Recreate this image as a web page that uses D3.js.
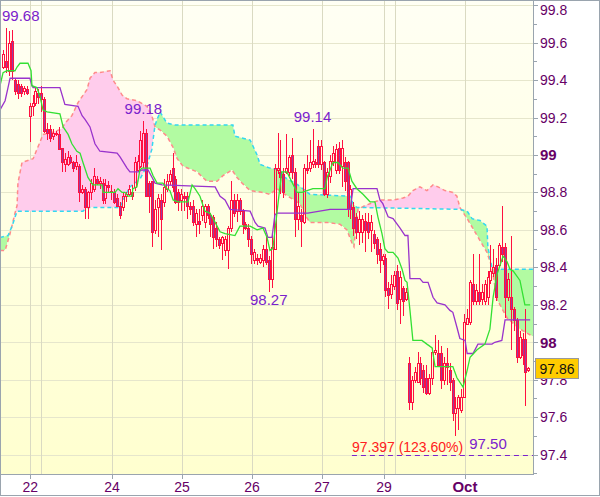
<!DOCTYPE html>
<html><head><meta charset="utf-8">
<script src="https://cdn.jsdelivr.net/npm/d3@7"></script>
<style>html,body{margin:0;padding:0;background:#fff;}svg{display:block;font-family:"Liberation Sans",Arial,sans-serif;}</style>
</head><body><svg id="c" width="600" height="497"></svg>
<script>
// ---------- DATA ----------
const opens = [99.47,99.50,99.45,99.61,99.40,99.38,99.37,99.34,99.35,99.21,
99.26,99.28,99.33,99.33,99.30,99.14,99.14,99.10,99.12,99.11,
99.04,98.95,98.95,98.99,98.96,98.94,98.94,98.80,98.82,98.72,
98.80,98.82,98.87,98.85,98.85,98.77,98.84,98.81,98.80,98.77,
98.73,98.72,98.78,98.79,98.80,98.83,98.92,98.94,98.96,99.12,
98.85,98.86,98.60,98.72,98.76,98.75,98.82,98.86,98.93,98.87,
98.80,98.76,98.78,98.78,98.73,98.73,98.63,98.65,98.68,98.64,
98.73,98.68,98.67,98.61,98.55,98.53,98.49,98.49,98.61,98.76,
98.70,98.76,98.70,98.63,98.61,98.55,98.44,98.45,98.43,98.44,
98.50,98.44,98.34,98.50,98.92,98.91,98.90,98.91,98.91,99.00,
98.91,98.66,98.68,98.64,98.93,98.93,98.95,98.96,99.05,98.95,
98.96,98.79,98.89,98.97,98.92,99.04,98.94,98.96,98.96,98.71,
98.72,98.67,98.59,98.59,98.65,98.64,98.60,98.58,98.55,98.50,
98.44,98.45,98.29,98.26,98.30,98.38,98.23,98.29,98.23,97.89,
97.68,97.80,97.79,97.89,97.85,97.81,97.73,97.81,97.95,97.94,
97.94,97.80,97.89,97.85,97.80,97.62,97.65,97.64,97.71,98.10,
98.11,98.31,98.22,98.27,98.23,98.22,98.24,98.33,98.37,98.41,
98.41,98.51,98.51,98.24,98.24,98.18,98.12,97.92,98.02,98.02,
97.85];
const highs = [99.56,99.68,99.66,99.67,99.41,99.40,99.38,99.37,99.37,99.28,
99.32,99.36,99.35,99.37,99.31,99.17,99.16,99.14,99.13,99.15,
99.04,99.01,99.02,99.00,98.97,99.00,98.95,98.84,98.83,98.81,
98.87,98.93,98.89,98.88,98.87,98.87,98.86,98.84,98.82,98.79,
98.75,98.80,98.80,98.84,98.84,98.99,99.00,99.13,99.18,99.14,
98.86,98.86,98.76,98.79,98.79,98.87,98.90,98.92,99.01,98.89,
98.82,98.82,98.80,98.80,98.75,98.76,98.71,98.71,98.76,98.74,
98.74,98.69,98.68,98.64,98.56,98.57,98.57,98.62,98.86,98.79,
98.79,98.77,98.71,98.64,98.63,98.57,98.50,98.47,98.47,98.52,
98.56,98.46,98.58,98.95,99.12,99.08,98.93,99.11,99.00,99.09,
98.93,98.80,98.71,98.95,99.00,99.08,99.14,98.98,99.08,99.08,
98.97,98.93,99.00,99.05,99.06,99.07,99.08,98.99,98.97,98.84,
98.75,98.69,98.70,98.68,98.69,98.69,98.68,98.60,98.56,98.53,
98.47,98.47,98.32,98.36,98.38,98.41,98.38,98.30,98.29,97.92,
97.82,97.87,97.95,97.92,97.88,97.88,97.83,97.97,98.04,98.01,
97.98,97.92,97.97,97.89,97.81,97.71,97.72,97.75,98.15,98.18,
98.33,98.47,98.31,98.47,98.31,98.33,98.38,98.52,98.50,98.45,
98.53,98.73,98.53,98.37,98.57,98.19,98.13,98.06,98.05,98.18,
97.87];
const lows = [99.46,99.44,99.42,99.40,99.32,99.30,99.31,99.32,99.32,99.07,
99.21,99.26,99.27,99.23,99.12,99.08,99.07,99.08,99.10,99.03,
98.91,98.91,98.94,98.95,98.91,98.92,98.75,98.79,98.66,98.66,
98.76,98.80,98.84,98.82,98.74,98.74,98.80,98.76,98.74,98.72,
98.66,98.70,98.75,98.78,98.76,98.81,98.91,98.93,98.93,98.78,
98.69,98.51,98.58,98.56,98.49,98.72,98.80,98.84,98.80,98.74,
98.70,98.70,98.70,98.66,98.68,98.62,98.56,98.58,98.65,98.61,
98.66,98.56,98.50,98.51,98.50,98.44,98.46,98.39,98.59,98.67,
98.64,98.68,98.58,98.60,98.51,98.42,98.42,98.41,98.42,98.40,
98.41,98.27,98.29,98.49,98.90,98.79,98.77,98.90,98.89,98.87,
98.56,98.60,98.51,98.63,98.90,98.91,98.93,98.93,98.93,98.92,
98.78,98.77,98.85,98.94,98.90,98.90,98.83,98.81,98.67,98.66,
98.57,98.55,98.52,98.53,98.48,98.55,98.48,98.50,98.42,98.37,
98.41,98.24,98.18,98.23,98.28,98.17,98.10,98.14,98.22,97.64,
97.64,97.78,97.78,97.77,97.73,97.72,97.72,97.77,97.93,97.87,
97.75,97.77,97.77,97.74,97.58,97.50,97.53,97.62,97.70,98.09,
98.09,98.20,98.20,98.20,98.20,98.20,98.20,98.31,98.35,98.22,
98.40,98.43,98.13,98.22,97.96,98.06,97.89,97.91,97.88,97.66,
97.84];
const closes = [99.54,99.47,99.60,99.45,99.34,99.33,99.33,99.36,99.33,99.26,
99.28,99.34,99.31,99.30,99.13,99.12,99.09,99.12,99.11,99.03,
98.96,98.98,98.99,98.96,98.93,98.96,98.80,98.82,98.72,98.80,
98.85,98.89,98.85,98.86,98.76,98.84,98.83,98.80,98.75,98.73,
98.68,98.78,98.79,98.82,98.78,98.96,98.97,99.08,99.12,98.78,
98.78,98.59,98.71,98.77,98.66,98.83,98.86,98.90,98.83,98.75,
98.75,98.79,98.77,98.73,98.71,98.64,98.69,98.63,98.73,98.73,
98.68,98.63,98.56,98.55,98.52,98.56,98.55,98.61,98.76,98.69,
98.76,98.70,98.63,98.61,98.55,98.47,98.48,98.44,98.45,98.50,
98.43,98.34,98.51,98.93,98.93,98.88,98.80,98.93,98.99,98.91,
98.66,98.73,98.65,98.93,98.92,98.96,98.97,98.95,98.95,99.05,
98.79,98.91,98.97,99.01,99.03,98.92,99.04,98.86,98.71,98.82,
98.61,98.59,98.66,98.66,98.60,98.59,98.64,98.53,98.47,98.44,
98.46,98.28,98.25,98.31,98.36,98.21,98.35,98.22,98.27,97.68,
97.80,97.84,97.89,97.81,97.76,97.73,97.81,97.95,97.96,97.88,
97.80,97.89,97.87,97.79,97.62,97.65,97.71,97.71,98.11,98.13,
98.32,98.22,98.28,98.22,98.27,98.31,98.35,98.38,98.40,98.24,
98.52,98.47,98.24,98.34,98.18,98.12,97.92,98.03,97.93,97.84,
97.86];

// indicator lines: [hour slot, price]
const tenkan = [[-1.15,99.37],[-0.1,99.44],[1.25,99.45],[4.0,99.45],[4.7,99.47],[5.7,99.49],[8.45,99.49],[9.5,99.45],[9.8,99.37],[11.5,99.36],[12.6,99.31],[13.6,99.24],[15.0,99.23],[19.4,99.22],[20.5,99.15],[22.2,99.11],[23.5,99.06],[25.2,99.02],[26.3,99.01],[27.3,98.96],[29.0,98.88],[30.7,98.84],[33.8,98.84],[34.2,98.80],[38.3,98.80],[39.3,98.82],[40.7,98.80],[41.7,98.80],[42.7,98.78],[44.1,98.78],[44.4,98.82],[45.8,98.83],[46.8,98.92],[47.5,98.93],[50.3,98.93],[51.3,98.89],[52.7,98.85],[54.7,98.85],[56.1,98.82],[57.1,98.81],[58.2,98.76],[59.9,98.75],[63.3,98.75],[64.7,98.84],[65.7,98.82],[67.4,98.78],[69.1,98.70],[70.8,98.69],[72.6,98.64],[74.3,98.59],[76.0,98.58],[79.4,98.57],[81.1,98.62],[84.6,98.62],[87.0,98.60],[89.0,98.61],[90.4,98.56],[91.4,98.49],[92.4,98.50],[93.8,98.69],[94.8,98.83],[95.5,98.91],[97.2,98.91],[100.7,98.80],[102.4,98.80],[106.1,98.82],[110.3,98.82],[111.0,98.88],[113.0,98.96],[114.7,98.96],[116.4,98.93],[118.2,98.93],[119.5,98.86],[121.2,98.82],[123.3,98.79],[125.7,98.75],[127.4,98.75],[128.4,98.67],[129.8,98.58],[130.8,98.50],[131.9,98.48],[133.6,98.48],[135.3,98.45],[136.7,98.39],[137.7,98.33],[138.4,98.32],[139.4,98.17],[140.4,98.01],[143.5,98.01],[145.2,97.99],[147.0,97.97],[148.0,97.87],[149.7,97.87],[154.1,97.87],[155.5,97.81],[157.6,97.76],[159.0,97.85],[160.0,97.92],[162.4,97.96],[165.1,97.99],[166.8,98.07],[167.9,98.24],[169.2,98.36],[171.3,98.46],[172.7,98.43],[173.7,98.39],[174.8,98.38],[177.1,98.33],[178.8,98.20],[180.6,98.20]];
const kijun = [[-1.15,99.24],[0.6,99.29],[1.6,99.36],[2.3,99.41],[9.1,99.41],[9.8,99.37],[10.2,99.36],[19.4,99.36],[21.1,99.27],[25.6,99.26],[27.0,99.21],[28.0,99.19],[29.7,99.15],[31.4,99.06],[33.1,99.02],[39.0,99.01],[40.0,98.99],[42.4,98.93],[43.4,98.91],[46.2,98.91],[47.5,98.92],[49.6,98.92],[51.0,98.88],[52.0,98.85],[54.4,98.84],[72.6,98.83],[74.3,98.78],[76.0,98.76],[77.7,98.71],[84.6,98.70],[86.3,98.64],[87.3,98.62],[89.7,98.61],[90.7,98.56],[92.1,98.56],[93.1,98.68],[93.8,98.69],[104.4,98.69],[112.0,98.71],[118.9,98.71],[119.9,98.82],[128.1,98.82],[129.1,98.76],[130.1,98.74],[131.9,98.67],[133.6,98.66],[136.0,98.61],[137.7,98.57],[138.7,98.57],[139.4,98.34],[142.8,98.34],[143.9,98.32],[145.6,98.32],[147.3,98.24],[148.7,98.21],[151.4,98.20],[153.1,98.17],[154.1,98.16],[155.5,98.08],[156.5,98.02],[158.3,98.01],[159.0,97.94],[161.0,97.94],[162.7,97.99],[167.5,97.99],[168.5,98.00],[170.9,98.01],[172.0,98.12],[180.6,98.12]];
const spanA = [[-1.15,98.56],[1.6,98.57],[3.0,98.62],[4.7,98.70],[27.3,98.70],[28.7,98.72],[40.0,98.72],[41.7,98.78],[43.4,98.83],[46.8,98.87],[49.2,98.94],[50.9,99.03],[52.0,99.16],[53.7,99.23],[56.1,99.17],[58.9,99.16],[78.7,99.16],[79.4,99.10],[84.6,99.08],[87.0,99.00],[88.0,98.95],[91.4,98.93],[94.8,98.92],[96.5,98.88],[101.0,98.84],[105.1,98.79],[118.9,98.78],[119.9,98.74],[121.2,98.72],[156.5,98.71],[159.0,98.70],[160.7,98.66],[163.4,98.65],[165.8,98.62],[166.1,98.51],[167.5,98.40],[168.5,98.39],[181.6,98.39]];
const spanB = [[-1.15,98.49],[0.6,98.49],[2.3,98.58],[4.0,98.69],[4.7,98.73],[5.0,98.85],[6.4,98.96],[10.2,98.98],[11.5,99.03],[12.6,99.07],[13.6,99.11],[16.7,99.12],[20.1,99.14],[21.1,99.17],[23.5,99.21],[25.6,99.28],[28.7,99.35],[29.7,99.41],[31.4,99.44],[33.1,99.44],[36.6,99.45],[37.6,99.40],[39.3,99.36],[40.7,99.32],[42.4,99.30],[45.8,99.29],[49.2,99.26],[50.9,99.21],[52.0,99.15],[54.0,99.13],[56.1,99.10],[58.2,99.04],[59.6,98.98],[61.6,98.94],[66.4,98.91],[68.4,98.88],[69.8,98.86],[73.3,98.86],[75.3,98.89],[78.4,98.92],[80.1,98.88],[81.8,98.85],[84.6,98.81],[89.0,98.80],[91.4,98.79],[93.8,98.82],[96.5,98.79],[101.7,98.74],[103.4,98.68],[105.1,98.64],[111.0,98.64],[115.4,98.63],[117.8,98.60],[119.5,98.53],[120.2,98.51],[120.9,98.63],[121.6,98.71],[124.0,98.73],[129.1,98.76],[133.6,98.76],[137.0,98.77],[138.7,98.78],[140.4,98.81],[142.8,98.83],[145.2,98.81],[147.3,98.84],[149.0,98.83],[151.4,98.81],[154.1,98.80],[155.5,98.78],[156.5,98.72],[159.0,98.66],[162.4,98.57],[165.8,98.48],[167.5,98.40],[169.2,98.23],[172.7,98.13],[177.1,98.07],[181.6,98.03]];

const yTickValues = [97.4,97.6,97.8,98,98.2,98.4,98.6,98.8,99,99.2,99.4,99.6,99.8];
const yTickLabels = ["97.4","97.6","97.8","98","98.2","98.4","98.6","98.8","99","99.2","99.4","99.6","99.8"];
const yBoldLabels = ["98","99"];
const yMinorValues = [97.3,97.5,97.7,97.9,98.1,98.3,98.5,98.7,98.9,99.1,99.3,99.5,99.7];
const daySlots = [9.25,13,37.25,61.25,85.25,109.25,130.5,134.25,158.25];
const dayLabels = ["22","","24","25","26","27","29","","Oct"];
const dayBold = ["Oct"];
const extremes = [
  {slot:1, value:99.68, text:"99.68", kind:"high"},
  {slot:48, value:99.18, text:"99.18", kind:"high"},
  {slot:106, value:99.14, text:"99.14", kind:"high"},
  {slot:91, value:98.27, text:"98.27", kind:"low"},
  {slot:155, value:97.50, text:"97.50", kind:"low"}
];
const fibValue = 97.397;
const fibLabel = "97.397 (123.60%)";
const fibStartSlot = 119.5;
const lastPrice = 97.86;

// ---------- DRAW ----------
const W = 600, H = 497;
const plot = {l:1, t:1, r:533, b:474};
const x = d3.scaleLinear().domain([0,180]).range([3.35,528.4]);
const y = d3.scaleLinear().domain([97.4,99.8]).range([454.6,5.2]);
const svg = d3.select("#c");
const defs = svg.append("defs");
const grad = defs.append("linearGradient").attr("id","bg").attr("x1",0).attr("y1",0).attr("x2",0).attr("y2",1);
grad.append("stop").attr("offset","0%").attr("stop-color","#fffff4");
grad.append("stop").attr("offset","100%").attr("stop-color","#ffffcf");
defs.append("clipPath").attr("id","plotClip").append("rect")
  .attr("x",plot.l).attr("y",plot.t).attr("width",plot.r-plot.l).attr("height",plot.b-plot.t);

svg.append("rect").attr("width",W).attr("height",H).attr("fill","#fff");
svg.append("rect").attr("x",plot.l).attr("y",plot.t).attr("width",plot.r-plot.l).attr("height",plot.b-plot.t).attr("fill","url(#bg)");

const g = svg.append("g").attr("clip-path","url(#plotClip)");

// grid
g.append("g").selectAll("line").data(yTickValues).join("line")
  .attr("x1",plot.l).attr("x2",plot.r)
  .attr("y1",d=>Math.round(y(d))+0.5).attr("y2",d=>Math.round(y(d))+0.5)
  .attr("stroke","#e6e6cc").attr("stroke-width",1);
g.append("g").selectAll("line").data(daySlots).join("line")
  .attr("x1",d=>Math.round(x(d))+0.5).attr("x2",d=>Math.round(x(d))+0.5)
  .attr("y1",plot.t).attr("y2",plot.b)
  .attr("stroke","#dadac2").attr("stroke-width",1);

// cloud
const line = d3.line().x(d=>x(d[0])).y(d=>y(d[1]));
const between = line(spanA) + "L" + line(spanB.slice().reverse()).slice(1) + "Z";
function above(pts){
  const f = pts[0], l = pts[pts.length-1];
  return line(pts) + `L${x(l[0])},-50L${x(f[0])},-50Z`;
}
defs.append("clipPath").attr("id","aboveB").append("path").attr("d",above(spanB));
defs.append("clipPath").attr("id","aboveA").append("path").attr("d",above(spanA));
const cloud = g.append("g");
cloud.append("g").attr("clip-path","url(#aboveB)").append("path").attr("d",between).attr("fill","#b2fba2");
cloud.append("g").attr("clip-path","url(#aboveA)").append("path").attr("d",between).attr("fill","#ffccec");
cloud.append("path").attr("d",line(spanB)).attr("fill","none").attr("stroke","#ff8a8a").attr("stroke-width",1.5).attr("stroke-dasharray","4,3");
cloud.append("path").attr("d",line(spanA)).attr("fill","none").attr("stroke","#33d8f0").attr("stroke-width",1.5).attr("stroke-dasharray","4,3");

// candles
const red = "#ff1040";
const cg = g.append("g").attr("shape-rendering","crispEdges");
opens.forEach((o,i)=>{
  const c = closes[i], hi = highs[i], lo = lows[i];
  const cx = Math.round(x(i));
  const top = Math.round(y(Math.max(o,c))), bot = Math.round(y(Math.min(o,c)));
  const yh = Math.round(y(hi)), yl = Math.round(y(lo));
  if (yh < top) cg.append("line").attr("x1",cx+0.5).attr("x2",cx+0.5).attr("y1",yh).attr("y2",top).attr("stroke",red);
  if (yl > bot) cg.append("line").attr("x1",cx+0.5).attr("x2",cx+0.5).attr("y1",bot).attr("y2",yl).attr("stroke",red);
  cg.append("rect").attr("x",cx-0.5).attr("y",top+0.5).attr("width",2).attr("height",Math.max(1,bot-top))
    .attr("fill", c < o ? "#9a3a9e" : "none").attr("stroke",red).attr("stroke-width",1);
});

// indicator lines
g.append("path").attr("d",line(kijun)).attr("fill","none").attr("stroke","#9933cc").attr("stroke-width",1.3);
g.append("path").attr("d",line(tenkan)).attr("fill","none").attr("stroke","#33e033").attr("stroke-width",1.3);

// fib level
const fy = y(fibValue);
g.append("line").attr("x1",x(fibStartSlot)).attr("x2",plot.r).attr("y1",Math.round(fy)+0.5).attr("y2",Math.round(fy)+0.5)
  .attr("stroke","#7a22cc").attr("stroke-dasharray","5,4").attr("stroke-width",1);
const fibText = svg.append("text").attr("x",x(fibStartSlot)).attr("y",fy-3.5)
  .attr("font-size","14px").attr("fill","#ff2020").text(fibLabel);
const fibEnd = x(fibStartSlot) + fibText.node().getComputedTextLength();

// extreme labels
extremes.forEach(e=>{
  const t = svg.append("text").attr("font-size","15px").attr("fill","#7a22cc").text(e.text);
  const w = t.node().getComputedTextLength();
  let cx = x(e.slot);
  let left = Math.max(plot.l+1, cx - w/2);
  let by = e.kind==="high" ? y(e.value)-7 : y(e.value)+13;
  if (e.kind==="low" && by > fy-18 && left < fibEnd + 6) left = fibEnd + 6;
  t.attr("x",left).attr("y",by);
});

// axes
const axisCol = "#9aa4ae";
svg.append("line").attr("x1",plot.r+0.5).attr("x2",plot.r+0.5).attr("y1",0).attr("y2",plot.b+1).attr("stroke",axisCol);
svg.append("line").attr("x1",0).attr("x2",plot.r+1).attr("y1",plot.b+0.5).attr("y2",plot.b+0.5).attr("stroke",axisCol);
svg.append("rect").attr("x",0.5).attr("y",0.5).attr("width",W-1).attr("height",H-2).attr("fill","none").attr("stroke",axisCol);

svg.append("g").selectAll("line").data(yTickValues).join("line")
  .attr("x1",plot.r+1).attr("x2",plot.r+5).attr("y1",d=>Math.round(y(d))+0.5).attr("y2",d=>Math.round(y(d))+0.5).attr("stroke",axisCol);
svg.append("g").selectAll("line").data(yMinorValues.filter(v=>y(v)>0&&y(v)<plot.b)).join("line")
  .attr("x1",plot.r+1).attr("x2",plot.r+4).attr("y1",d=>Math.round(y(d))+0.5).attr("y2",d=>Math.round(y(d))+0.5).attr("stroke",axisCol);
svg.append("g").selectAll("text").data(yTickValues).join("text")
  .attr("x",540).attr("y",d=>Math.max(9.5, y(d))).attr("dy","0.36em")
  .attr("fill","#660066")
  .attr("font-size",(d,i)=>yBoldLabels.includes(yTickLabels[i])?"15px":"14px")
  .attr("font-weight",(d,i)=>yBoldLabels.includes(yTickLabels[i])?"bold":"normal")
  .text((d,i)=>yTickLabels[i]);

const dayIdx = dayLabels.map((l,i)=>i).filter(i=>dayLabels[i]!=="");
svg.append("g").selectAll("line").data(dayIdx).join("line")
  .attr("x1",i=>Math.round(x(daySlots[i]))+0.5).attr("x2",i=>Math.round(x(daySlots[i]))+0.5)
  .attr("y1",plot.b+1).attr("y2",plot.b+5).attr("stroke",axisCol);
svg.append("g").selectAll("text").data(dayIdx).join("text")
  .attr("x",i=>x(daySlots[i])).attr("y",492).attr("text-anchor","middle")
  .attr("fill","#660066")
  .attr("font-size",i=>dayBold.includes(dayLabels[i])?"15px":"14px")
  .attr("font-weight",i=>dayBold.includes(dayLabels[i])?"bold":"normal")
  .text(i=>dayLabels[i]);

// last price box
const ly = y(lastPrice);
svg.append("rect").attr("x",535.5).attr("y",Math.round(ly)-9.5).attr("width",43).attr("height",20)
  .attr("fill","#ffcc00").attr("stroke","#9a9a9a");
svg.append("text").attr("x",557).attr("y",ly).attr("dy","0.36em").attr("text-anchor","middle")
  .attr("font-size","14px").attr("fill","#111").text(lastPrice.toFixed(2));
</script></body></html>
